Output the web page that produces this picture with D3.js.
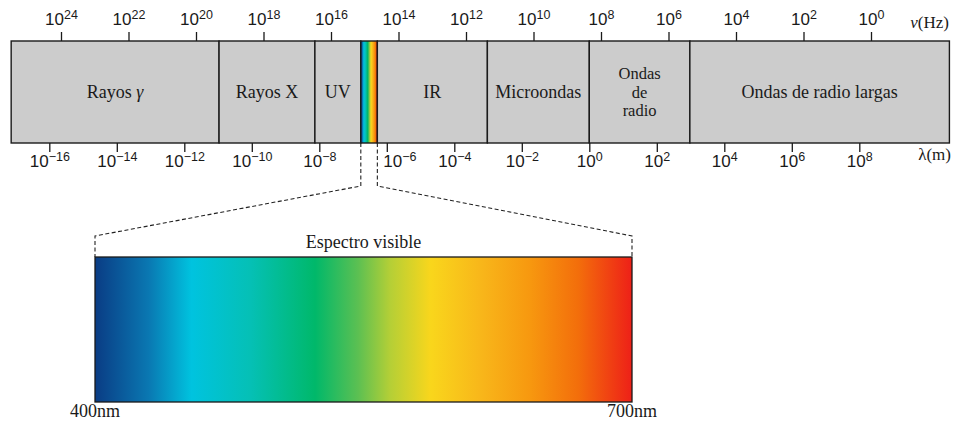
<!DOCTYPE html>
<html><head><meta charset="utf-8">
<script src="https://cdn.jsdelivr.net/npm/d3@7"></script>
<style>
html,body{margin:0;padding:0;background:#fff;}
svg{display:block;font-family:"Liberation Serif","Times New Roman",serif;color:#111;}
</style></head><body>
<svg id="chart" width="954" height="421"></svg>
<script>
// Wavelength ticks, log10(λ / m), along the lower edge of the band
const wavelengthExps = [-16, -14, -12, -10, -8, -6, -4, -2, 0, 2, 4, 6, 8];
// Frequency ticks, log10(ν / Hz), along the upper edge of the band
const frequencyExps = [24, 22, 20, 18, 16, 14, 12, 10, 8, 6, 4, 2, 0];
// Spectral regions (one entry per text line) and their boundaries in log10(λ / m)
const regionLabels = [["Rayos γ"], ["Rayos X"], ["UV"], [], ["IR"], ["Microondas"], ["Ondas", "de", "radio"], ["Ondas de radio largas"]];
const regionEdges = [-17.13, -10.97, -8.13, -6.77, -6.28, -3.02, 0, 2.98, 10.67];
const visibleRegion = 3;
// Visible range, nm
const visibleRange = [400, 700];
const visibleTitle = "Espectro visible";
const axisTitles = { frequency: "ν(Hz)", wavelength: "λ(m)" };

// Colour ramp of the visible spectrum
const spectrumStops = [
  [0.00, "#0a3c84"], [0.10, "#0a78b2"], [0.18, "#00c3df"], [0.29, "#05c0b5"],
  [0.41, "#00b86a"], [0.49, "#5cc052"], [0.55, "#b5cf36"], [0.625, "#f9d61c"],
  [0.72, "#f8b61a"], [0.81, "#f7980f"], [0.90, "#f36e0b"], [1.00, "#ee2018"]
];

const svg = d3.select("#chart");
const bandTop = 41, bandBottom = 143;
const ink = "#1a1a1a";

const xLam = d3.scaleLinear().domain([-16, 8]).range([49.3, 859.3]);
const xNu = d3.scaleLinear().domain([24, 0]).range([61, 871]);
const xVis = d3.scaleLinear().domain(visibleRange).range([95, 632]);

const defs = svg.append("defs");
const grad = defs.append("linearGradient").attr("id", "spectrum")
  .attr("x1", "0%").attr("x2", "100%").attr("y1", "0%").attr("y2", "0%");
grad.selectAll("stop").data(spectrumStops).join("stop")
  .attr("offset", d => d[0]).attr("stop-color", d => d[1]);

// Writes 10^e with a raised exponent
function powerLabel(sel, e) {
  sel.append("tspan").text("10");
  sel.append("tspan").attr("font-size", 12.5).attr("dy", -6)
    .text(e < 0 ? "\u2212" + (-e) : String(e));
}
// Greek letters drawn in italic, as in math mode
function richText(sel, s) {
  const parts = s.split(/([γνλ])/);
  parts.filter(p => p !== "").forEach(p => {
    const t = sel.append("tspan").text(p);
    if (/[γν]/.test(p)) t.attr("font-style", "italic");
  });
}

// Region cells
const regions = regionEdges.slice(0, -1).map((e, i) => ({
  x0: xLam(e), x1: xLam(regionEdges[i + 1]), lines: regionLabels[i], visible: i === visibleRegion
}));
svg.append("g").selectAll("rect").data(regions).join("rect")
  .attr("x", d => d.x0).attr("y", bandTop)
  .attr("width", d => d.x1 - d.x0).attr("height", bandBottom - bandTop)
  .attr("fill", d => d.visible ? "url(#spectrum)" : "#cccccc")
  .attr("stroke", ink).attr("stroke-width", 1.4);

// Region names; multi-line names use a slightly smaller size so the rows stay apart
const lineGap = 18.5;
const labelG = svg.append("g").attr("fill", ink).attr("text-anchor", "middle");
regions.filter(r => r.lines.length).forEach(r => {
  const n = r.lines.length;
  const cx = (r.x0 + r.x1) / 2;
  r.lines.forEach((line, k) => {
    const t = labelG.append("text")
      .attr("font-size", n > 1 ? 16.5 : 18)
      .attr("x", cx).attr("y", 97.5 + (k - (n - 1) / 2) * lineGap);
    richText(t, line);
  });
});

// Frequency axis
const topAxis = svg.append("g").attr("transform", `translate(0,${bandTop})`)
  .call(d3.axisTop(xNu).tickValues(frequencyExps).tickSize(9).tickFormat(() => ""));
topAxis.select(".domain").remove();
topAxis.selectAll(".tick line").attr("stroke", ink).attr("stroke-width", 1.3);
topAxis.selectAll(".tick").each(function (e) {
  const t = d3.select(this).append("text").attr("y", -16.5).attr("fill", ink)
    .attr("font-size", 17).attr("text-anchor", "middle");
  powerLabel(t, e);
});

// Wavelength axis
const visRight = xLam(regionEdges[visibleRegion + 1]);
const botAxis = svg.append("g").attr("transform", `translate(0,${bandBottom})`)
  .call(d3.axisBottom(xLam).tickValues(wavelengthExps).tickSize(9).tickFormat(() => ""));
botAxis.select(".domain").remove();
botAxis.selectAll(".tick line").attr("stroke", ink).attr("stroke-width", 1.3);
botAxis.selectAll(".tick").each(function (e) {
  const x = xLam(e);
  const crowded = Math.abs(x - visRight) < 15;
  const t = d3.select(this).append("text").attr("y", 23.5).attr("fill", ink)
    .attr("font-size", 17)
    .attr("text-anchor", crowded ? "start" : "middle")
    .attr("x", crowded ? visRight + 5.5 - x : 0);
  powerLabel(t, e);
});

// Axis titles
svg.append("text").attr("x", 949).attr("y", 28).attr("text-anchor", "end")
  .attr("font-size", 17).attr("fill", ink).call(richText, axisTitles.frequency);
svg.append("text").attr("x", 951).attr("y", 160).attr("text-anchor", "end")
  .attr("font-size", 17).attr("fill", ink).call(richText, axisTitles.wavelength);

// Enlarged visible spectrum
const panelTop = 257, panelBottom = 402;
const visLeft = xLam(regionEdges[visibleRegion]);
const connectors = [
  [[visLeft, bandBottom], [visLeft, 186], [xVis(visibleRange[0]), 236], [xVis(visibleRange[0]), panelTop]],
  [[visRight, bandBottom], [visRight, 186], [xVis(visibleRange[1]), 236], [xVis(visibleRange[1]), panelTop]]
];
svg.append("g").selectAll("path").data(connectors).join("path")
  .attr("d", d3.line()).attr("fill", "none")
  .attr("stroke", "#222").attr("stroke-width", 1.1).attr("stroke-dasharray", "4,2.5");

svg.append("rect")
  .attr("x", xVis(visibleRange[0])).attr("y", panelTop)
  .attr("width", xVis(visibleRange[1]) - xVis(visibleRange[0]))
  .attr("height", panelBottom - panelTop)
  .attr("fill", "url(#spectrum)").attr("stroke", ink).attr("stroke-width", 1.3);

svg.append("text").attr("x", xVis(d3.mean(visibleRange))).attr("y", 248)
  .attr("text-anchor", "middle").attr("font-size", 18).attr("fill", ink).text(visibleTitle);

svg.append("g").selectAll("text").data(visibleRange).join("text")
  .attr("x", d => xVis(d)).attr("y", 417).attr("text-anchor", "middle")
  .attr("font-size", 18).attr("fill", ink).text(d => d + "nm");
</script>
</body></html>
